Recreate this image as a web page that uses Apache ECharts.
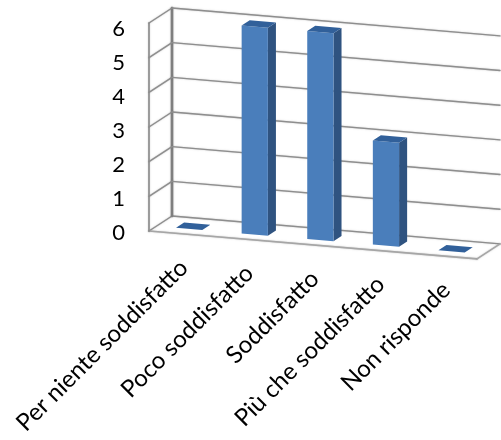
<!DOCTYPE html>
<html><head><meta charset="utf-8">
<style>html,body{margin:0;padding:0;background:#fff}#c{width:501px;height:440px;filter:blur(0.6px)}</style>
<script src="https://cdn.jsdelivr.net/npm/echarts@6/dist/echarts.min.js"></script>
</head><body><div id="c"></div>
<script>
var categories = ['Per niente soddisfatto','Poco soddisfatto','Soddisfatto','Più che soddisfatto','Non risponde'];
var values = [0, 6, 6, 3, 0];
var yTicks = [0, 1, 2, 3, 4, 5, 6];

var DX = 23, DY = 15, SLOPE = 0.085, X0 = 149;
var BAR_D0 = 0.32, BAR_D1 = 0.67, BAR_W = 0.4;
function proj(p, d) { return [p[0] + DX * d, p[1] + SLOPE * (p[0] - X0) - DY * d]; }

var chart = echarts.init(document.getElementById('c'), null, {renderer:'canvas'});

function line(a, b, color, w) {
  return {type:'line', shape:{x1:a[0],y1:a[1],x2:b[0],y2:b[1]},
    style:{stroke:color,lineWidth:w,lineCap:'round',shadowBlur:1.5,shadowColor:'rgba(120,120,120,.5)'}};
}
function frame(params, api) {
  var v = api.value(0);
  var n = categories.length;
  var a = api.coord([0, v]), sz = api.size([1, 0])[0];
  var L = [a[0] - sz / 2, a[1]], R = [a[0] + sz * (n - 0.5), a[1]];
  var kids = [];
  kids.push(line(proj(L, 0), proj(L, 1), '#8e8e8e', 1.4));
  kids.push(line(proj(L, 1), proj(R, 1), '#8e8e8e', 1.4));
  if (v === 0) {
    kids.push(line(proj(L, 0), proj(R, 0), '#a6a6a6', 1.6));
    kids.push(line(proj(R, 0), proj(R, 1), '#a6a6a6', 1.4));
    var T = api.coord([0, 6]); var TL = [L[0], T[1]];
    kids.push(line(proj(L, 0), proj(TL, 0), '#8e8e8e', 1.6));
    kids.push(line(proj(L, 1), proj(TL, 1), '#7f7f7f', 2.6));
  }
  return {type:'group', children:kids};
}
function poly(pts, fill) {
  return {type:'polygon', shape:{points:pts}, style:{fill:fill}};
}
function bar(params, api) {
  var c = api.coord([api.value(0), 0]), t = api.coord([api.value(0), api.value(1)]);
  var w = api.size([1, 0])[0] * BAR_W;
  var B0 = [c[0] - w / 2, c[1]], B1 = [c[0] + w / 2, c[1]];
  var T0 = [c[0] - w / 2, t[1]], T1 = [c[0] + w / 2, t[1]];
  var kids = [
    poly([proj(B1, BAR_D0), proj(B1, BAR_D1), proj(T1, BAR_D1), proj(T1, BAR_D0)], '#2f5380'),
    poly([proj(B0, BAR_D0), proj(B1, BAR_D0), proj(T1, BAR_D0), proj(T0, BAR_D0)], '#4a7ebb'),
    poly([proj(T0, BAR_D0), proj(T1, BAR_D0), proj(T1, BAR_D1), proj(T0, BAR_D1)], '#31609a')
  ];
  return {type:'group', children:kids};
}
function catLabel(params, api) {
  var c = api.coord([api.value(0), 0]);
  var p = proj(c, 0);
  return {type:'text', x:p[0] + 2, y:p[1] + 30, rotation:Math.PI / 4,
    style:{text:categories[api.value(0)], align:'right', verticalAlign:'middle',
      font:'24px Lato', fill:'#000'}};
}

chart.setOption({
  animation:false,
  grid:[
    {left:149, top:23, width:328, height:208},
    {left:130, top:29, width:10, height:204}
  ],
  xAxis:[
    {gridIndex:0, type:'category', data:categories, show:false},
    {gridIndex:1, type:'value', min:0, max:1, show:false}
  ],
  yAxis:[
    {gridIndex:0, type:'value', min:0, max:6, interval:1, show:false},
    {gridIndex:1, type:'value', min:0, max:6, interval:1,
      axisLine:{show:false}, axisTick:{show:false}, splitLine:{show:false},
      axisLabel:{margin:5, fontFamily:'Lato', fontSize:22, color:'#000'}}
  ],
  series:[
    {type:'custom', xAxisIndex:0, yAxisIndex:0, renderItem:frame, silent:true, z:1,
      encode:{y:0}, data:yTicks.map(function(v){return [v];})},
    {type:'custom', xAxisIndex:0, yAxisIndex:0, renderItem:bar, silent:true, z:2,
      encode:{x:0,y:1}, data:values.map(function(v,i){return [i,v];})},
    {type:'custom', xAxisIndex:0, yAxisIndex:0, renderItem:catLabel, silent:true, z:3, clip:false,
      encode:{x:0}, data:categories.map(function(c,i){return [i];})}
  ]
});
</script></body></html>
